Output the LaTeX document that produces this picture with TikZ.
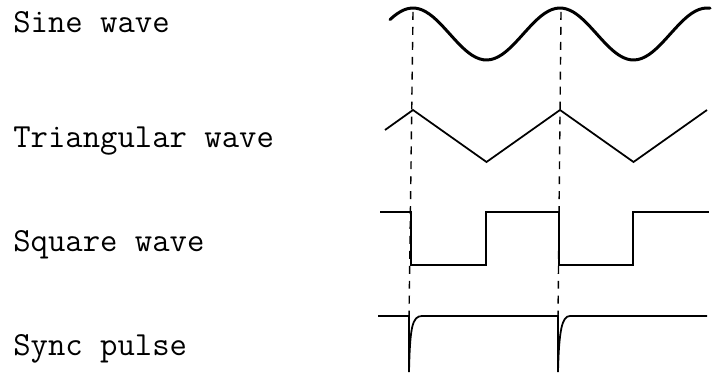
\documentclass[tikz,border=0pt]{standalone}
\begin{document}
\begin{tikzpicture}
[
	x=0.02cm,
	y=-0.02cm,
	label/.style={anchor=base west,inner sep=0pt,font=\ttfamily\fontsize{19.2}{23}\selectfont},
	wave/.style={line width=1pt,line join=miter},
	sinewave/.style={line width=1.7pt,line cap=round},
	guide/.style={dash pattern=on 4.5pt off 4pt,line width=0.8pt}
]
	\useasboundingbox (0,0) rectangle (715,374);

	% labels
	\node[label] (sine) at (13,33) {Sine wave};
	\node[label] (tri) at (13,148) {Triangular wave};
	\node[label] (square) at (13,252) {Square wave};
	\node[label] (sync) at (13,355) {Sync pulse};

	% timing marks
	\coordinate (top1) at (413,12);
	\coordinate (bot1) at (409,318);
	\coordinate (top2) at (561,12);
	\coordinate (bot2) at (558,318);
	\draw[guide] (top1) -- (bot1);
	\draw[guide] (top2) -- (bot2);

	% sine wave (period 147)
	\draw[sinewave, domain=390:710, samples=90, smooth] plot (\x,{34-26*cos((\x-413)*2.449)});

	% triangular wave
	\draw[wave] (385,130) -- (413,110) -- (486.5,162) -- (560,110) -- (633.5,162) -- (707,110);

	% square wave
	\draw[wave]
	  (380,212) -- (411,212) -- (411,265) -- (486,265) -- (486,212)
	  -- (559,212) -- (559,265) -- (633,265) -- (633,212) -- (709,212)
	;

	% sync pulse
	\draw[wave]
	  (378,316) -- (409,316) -- (409,372)
	  .. controls (410,328) and (412,316) .. (422,316)
	  -- (558,316) -- (558,372)
	  .. controls (559,330) and (562,316) .. (570,316)
	  -- (707,316)
	;

\end{tikzpicture}
\end{document}
